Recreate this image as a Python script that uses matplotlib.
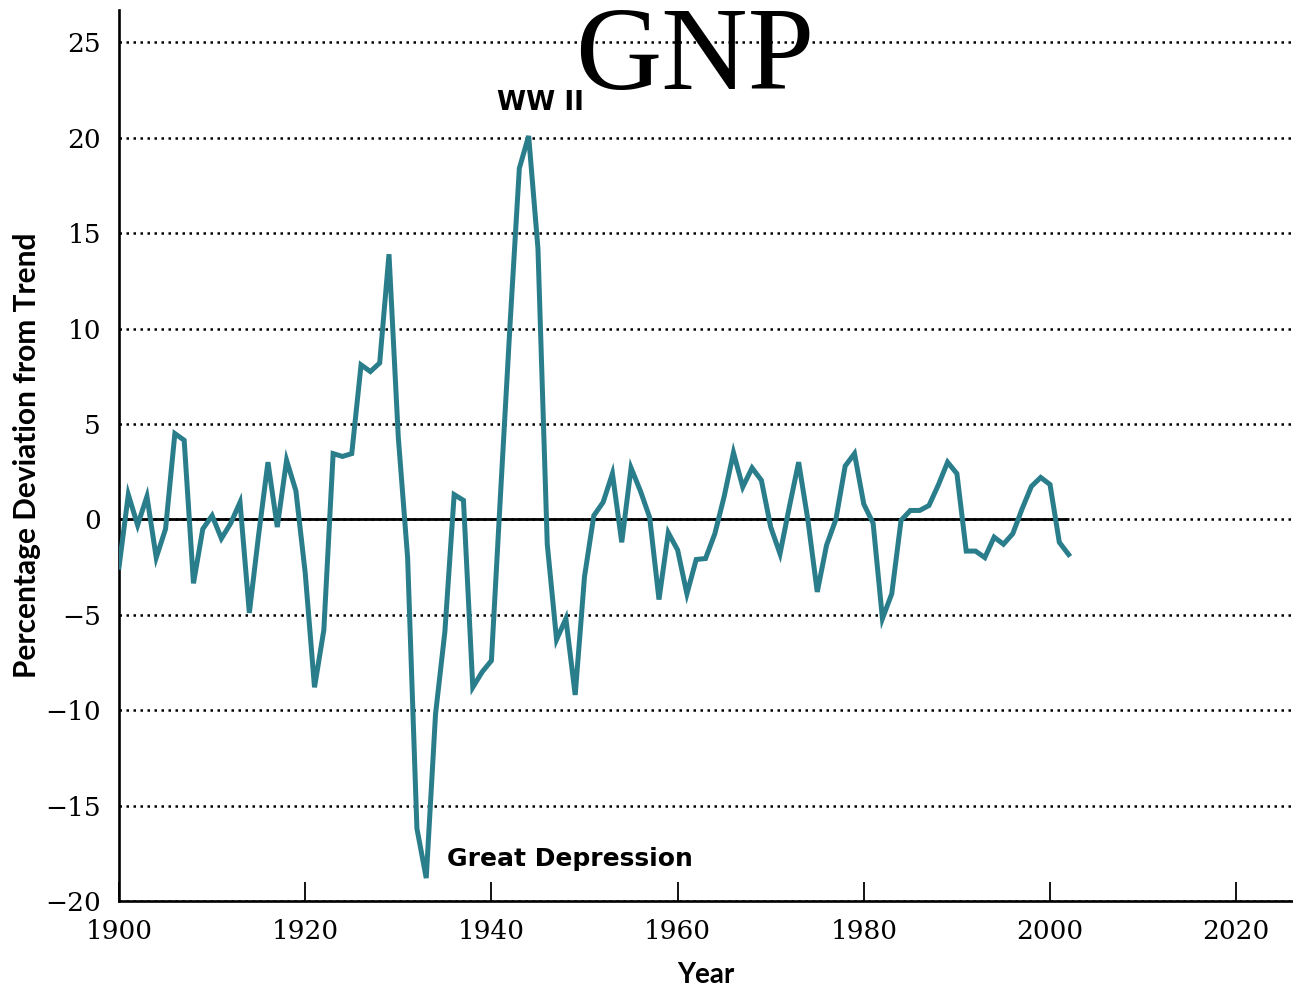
import matplotlib
matplotlib.use("Agg")
import matplotlib.pyplot as plt
import numpy as np

# ---- data -------------------------------------------------------------
years = list(range(1900, 2003))
deviation = [
    -2.5, 1.3, -0.3, 1.2, -2.0, -0.5, 4.5, 4.15, -3.35, -0.5,      # 1900-1909
    0.2, -1.0, -0.2, 0.9, -4.9, -0.8, 3.0, -0.4, 3.1, 1.5,         # 1910-1919
    -2.8, -8.8, -5.8, 3.45, 3.3, 3.45, 8.1, 7.75, 8.2, 13.9,       # 1920-1929
    4.3, -2.0, -16.2, -18.8, -10.2, -5.9, 1.3, 1.0, -8.8, -8.0,    # 1930-1939
    -7.4, 1.5, 10.2, 18.4, 20.1, 14.2, -1.3, -6.3, -5.2, -9.2,     # 1940-1949
    -3.0, 0.2, 0.9, 2.4, -1.2, 2.7, 1.5, 0.1, -4.2, -0.7,          # 1950-1959
    -1.6, -3.9, -2.1, -2.05, -0.75, 1.2, 3.5, 1.7, 2.7, 2.05,      # 1960-1969
    -0.4, -1.8, 0.65, 3.0, -0.05, -3.8, -1.35, 0.0, 2.8, 3.45,     # 1970-1979
    0.8, -0.2, -5.2, -3.9, -0.05, 0.47, 0.47, 0.73, 1.8, 3.0,      # 1980-1989
    2.4, -1.66, -1.66, -2.0, -0.93, -1.3, -0.75, 0.55, 1.73, 2.2,  # 1990-1999
    1.83, -1.2, -1.84,                                             # 2000-2002
]
x_ticks = [1900, 1920, 1940, 1960, 1980, 2000, 2020]
y_ticks = [-20, -15, -10, -5, 0, 5, 10, 15, 20, 25]

title_text = "GNP"
xlabel_text = "Year"
ylabel_text = "Percentage Deviation from Trend"
annotations = [("WW II", 1945.3, 21.8), ("Great Depression", 1935.2, -17.8)]

# ---- figure -----------------------------------------------------------
line_color = "#2a7e8b"
fig = plt.figure(figsize=(12.93, 9.88), dpi=100)
ax = fig.add_axes([119 / 1293, 1 - 901 / 988, 1 - 119 / 1293, (901 - 10) / 988])

ax.set_xlim(1900, 2026.1)
ax.set_ylim(-20, 26.7)

# dotted grid lines
ax.set_yticks(y_ticks)
ax.yaxis.grid(True, linestyle=(0, (1, 1.8)), color="black", linewidth=1.8, zorder=1)
ax.set_axisbelow(True)

# solid zero line over the data span
ax.hlines(0, years[0], years[-1], color="black", linewidth=2.0, zorder=2)

ax.plot(years, deviation, color=line_color, linewidth=3.6, zorder=3,
        solid_joinstyle="miter")

# spines
for s in ("top", "right"):
    ax.spines[s].set_visible(False)
for s in ("left", "bottom"):
    ax.spines[s].set_linewidth(1.9)

ax.set_xticks(x_ticks)
ax.tick_params(axis="x", direction="in", length=14, width=1.3, pad=13)
ax.tick_params(axis="y", length=0, pad=13)
for lab in ax.get_xticklabels() + ax.get_yticklabels():
    lab.set_fontfamily("DejaVu Serif")
    lab.set_fontsize(19)

ax.set_xlabel(xlabel_text, fontfamily="Lato", fontweight="bold", fontsize=20, labelpad=13)
ax.set_ylabel(ylabel_text, fontfamily="Lato", fontweight="bold", fontsize=21.5, labelpad=3)

for txt, xv, yv in annotations:
    ha = "center" if txt.startswith("WW") else "left"
    fs = 19 if txt.startswith("WW") else 18
    ax.text(xv, yv, txt, ha=ha, va="center", fontfamily="DejaVu Sans",
            fontweight="bold", fontsize=fs, zorder=4)

fig.text(695 / 1293, 1 - 60 / 988, title_text, ha="center", va="center",
         fontfamily="Liberation Serif", fontsize=86)

fig.savefig("out.png", dpi=100)
